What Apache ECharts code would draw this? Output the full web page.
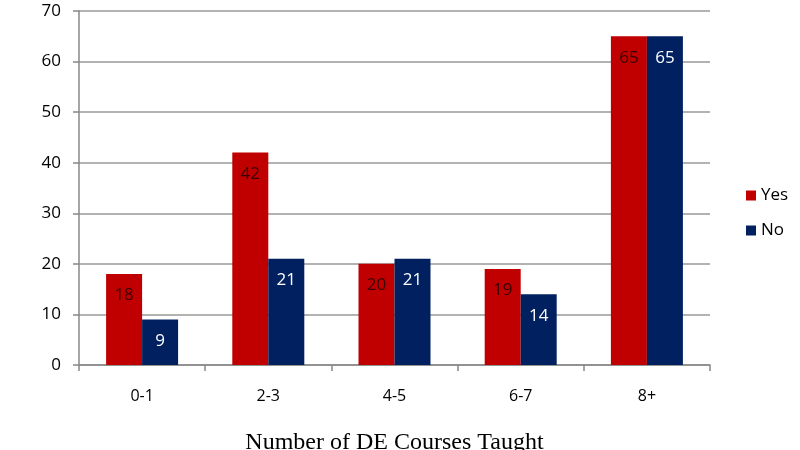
<!DOCTYPE html>
<html><head><meta charset="utf-8">
<script src="https://cdn.jsdelivr.net/npm/echarts@6/dist/echarts.min.js"></script>
<style>html,body{margin:0;padding:0;background:#fff}#c{width:800px;height:450px}</style>
</head><body><div id="c"></div>
<script>
const categories = ['0-1', '2-3', '4-5', '6-7', '8+'];
const yesValues = [18, 42, 20, 19, 65];
const noValues = [9, 21, 21, 14, 65];
const yTicks = [0, 10, 20, 30, 40, 50, 60, 70];

const chart = echarts.init(document.getElementById('c'), null, {renderer: 'canvas'});
const font = 'Open Sans';
chart.setOption({
  animation: false,
  backgroundColor: '#fff',
  grid: {left: 79, right: 90, top: 11, bottom: 85, containLabel: false, outerBoundsMode: 'none'},
  legend: {
    orient: 'vertical', left: 741, top: 182,
    itemWidth: 10, itemHeight: 10, itemGap: 18, icon: 'rect',
    textStyle: {fontFamily: font, fontSize: 17, color: '#000'},
    data: ['Yes', 'No']
  },
  xAxis: {
    type: 'category', data: categories,
    name: 'Number of DE Courses Taught', nameLocation: 'middle', nameGap: 66,
    nameTextStyle: {fontFamily: 'Liberation Serif', fontSize: 24, color: '#000'},
    axisLine: {lineStyle: {color: '#888', width: 1.5}},
    axisTick: {show: true, length: 6, lineStyle: {color: '#888', width: 1.5}},
    axisLabel: {fontFamily: font, fontSize: 16, color: '#000', margin: 23}
  },
  yAxis: {
    type: 'value', min: yTicks[0], max: yTicks[yTicks.length - 1], interval: 10,
    axisLine: {show: true, lineStyle: {color: '#888', width: 1.5}},
    axisTick: {show: true, length: 6, lineStyle: {color: '#888', width: 1.5}},
    splitLine: {lineStyle: {color: '#999', width: 1.5}},
    axisLabel: {fontFamily: font, fontSize: 17, color: '#000', margin: 18}
  },
  series: [
    {name: 'Yes', type: 'bar', data: yesValues, barWidth: 36, barGap: '0%',
     itemStyle: {color: '#C00000'},
     label: {show: true, position: 'insideTop', distance: 13, fontFamily: font, fontSize: 17, color: '#3a0000'}},
    {name: 'No', type: 'bar', data: noValues, barWidth: 36, barGap: '0%',
     itemStyle: {color: '#002060'},
     label: {show: true, position: 'insideTop', distance: 13, fontFamily: font, fontSize: 17, color: '#fff'}}
  ]
});
</script></body></html>
